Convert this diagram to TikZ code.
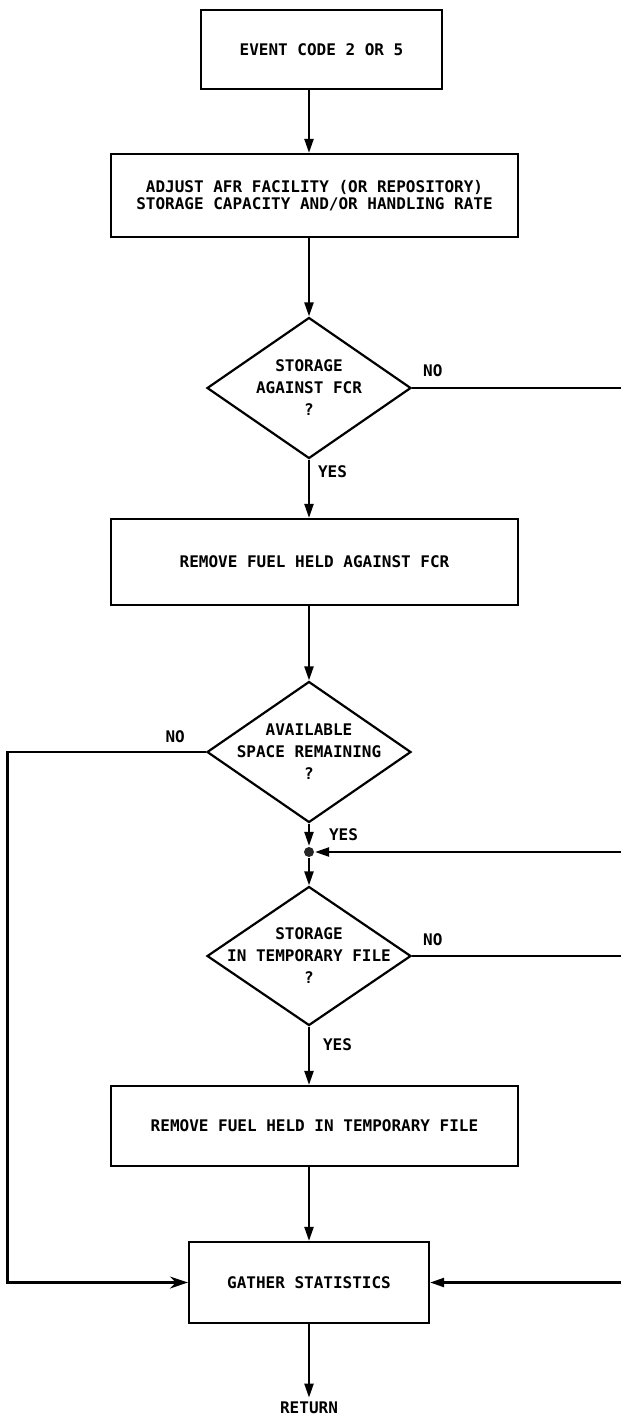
\documentclass[tikz,border=0pt]{standalone}
\usepackage{fontspec}
\newfontfamily\chartfont{DejaVu Sans Mono Bold}
\usetikzlibrary{shapes.geometric,arrows.meta,calc}

\begin{document}
\begin{tikzpicture}[x=1pt, y=-1pt, line width=2.2pt,
  every node/.style={font=\chartfont\fontsize{16}{22}\selectfont},
  term/.style={draw, minimum width=241pt, minimum height=79pt, align=center, inner sep=0pt},
  proc/.style={draw, minimum width=407pt, minimum height=84pt, align=center, inner sep=0pt},
  decision/.style={draw, diamond, minimum width=204pt, minimum height=141pt, inner sep=0pt},
  qtext/.style={align=center, inner sep=0pt},
  lbl/.style={inner sep=0pt},
  arr/.style={-{Triangle[length=14pt,width=9pt]}}
]
  \useasboundingbox (0,0) rectangle (621,1419);
  \coordinate (redge) at (621,0);
  \coordinate (ledge) at (7.5,0);

  \node[term] (event) at (321.5,49.5) {EVENT CODE 2 OR 5};
  \node[proc, minimum height=83pt] (adjust) at (314.5,195.5) {ADJUST AFR FACILITY (OR REPOSITORY)\\[-5pt]STORAGE CAPACITY AND/OR HANDLING RATE};
  \node[decision] (fcr) at (309,388) {};
  \node[qtext] at (fcr) {STORAGE\\AGAINST FCR\\?};
  \node[proc, minimum height=86pt] (remfcr) at (314.5,562) {REMOVE FUEL HELD AGAINST FCR};
  \node[decision] (space) at (309,752) {};
  \node[qtext] at (space) {AVAILABLE\\SPACE REMAINING\\?};
  \node[circle, fill=black!85, inner sep=0pt, minimum size=10pt] (join) at (309,852) {};
  \node[decision, minimum height=139pt] (temp) at (309,956) {};
  \node[qtext] at (temp) {STORAGE\\IN TEMPORARY FILE\\?};
  \node[proc, minimum height=80pt] (remtemp) at (314.5,1126) {REMOVE FUEL HELD IN TEMPORARY FILE};
  \node[term, minimum width=240pt, minimum height=81pt] (gather) at (309,1282.5) {GATHER STATISTICS};
  \node (ret) at (309,1408) {RETURN};

  \node[lbl, anchor=south west] at ($(fcr.east)+(10,-10)$) {NO};
  \node[lbl, anchor=north west] at ($(fcr.south)+(8,5)$) {YES};
  \node[lbl, anchor=south east] at ($(space.west)+(-20,-8)$) {NO};
  \node[lbl, anchor=north west] at ($(space.south)+(19,4)$) {YES};
  \node[lbl, anchor=south west] at ($(temp.east)+(10,-9)$) {NO};
  \node[lbl, anchor=north west] at ($(temp.south)+(13,11)$) {YES};

  \draw[arr] (event.south -| fcr) -- (adjust.north -| fcr);
  \draw[arr] (adjust.south -| fcr) -- (fcr.north);
  \draw[arr] (fcr.south) -- (remfcr.north -| fcr);
  \draw[arr] (remfcr.south -| space) -- (space.north);
  \draw[arr] (space.south) -- (join.north);
  \draw[arr] (join.south) -- (temp.north);
  \draw[arr] (temp.south) -- (remtemp.north -| temp);
  \draw[arr] (remtemp.south -| gather) -- (gather.north);
  \draw[arr] (gather.south) -- (ret.north);

  \draw (fcr.east) -- (fcr.east -| redge);
  \draw[arr] (join.east -| redge) -- (join.east);
  \draw (temp.east) -- (temp.east -| redge);
  \draw[arr] (gather.east -| redge) -- (gather.east);
  \draw[-{Stealth[length=18pt,width=12pt]}] (space.west) -- (space.west -| ledge) |- (gather.west);
\end{tikzpicture}
\end{document}
